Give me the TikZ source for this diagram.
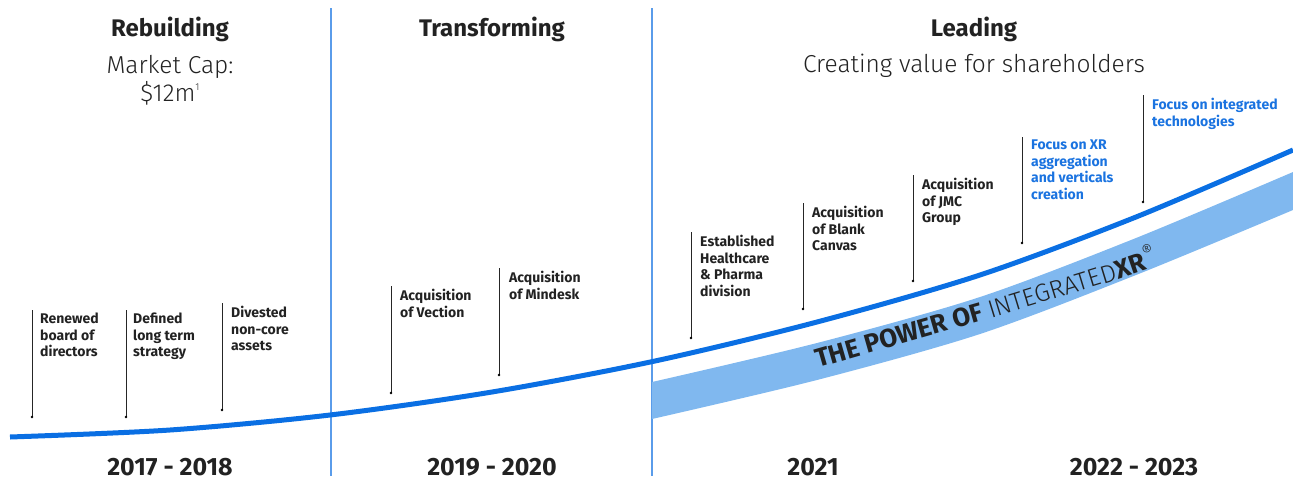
\documentclass[tikz,border=0pt]{standalone}
\usepackage{fontspec}
\setmainfont{Fira Sans}
\newfontfamily\lightfont{Fira Sans Light}
\definecolor{curveblue}{HTML}{0A6FE3}
\definecolor{bandblue}{HTML}{80B8EF}
\definecolor{sepblue}{HTML}{5A9CEA}
\definecolor{txt}{HTML}{222222}
\definecolor{lblblue}{HTML}{1A73E0}
\tikzset{
  lbl/.style={font=\bfseries\fontsize{14}{16.5}\selectfont, text=txt, align=left, anchor=north west, inner sep=0pt},
  bluelbl/.style={lbl, text=lblblue},
  tickline/.style={draw=black!85, line width=1pt},
  sepline/.style={draw=sepblue, line width=1.3pt},
  head/.style={font=\bfseries\fontsize{24}{28}\selectfont, text=txt, inner sep=0pt},
  sub/.style={font=\lightfont\fontsize{24.5}{28}\selectfont, text=txt, inner sep=0pt},
  year/.style={font=\bfseries\fontsize{25}{28}\selectfont, text=txt, inner sep=0pt},
  bandtxt/.style={anchor=base west, inner sep=0pt, text=txt, font=\fontsize{26}{28}\selectfont},
}
\begin{document}
\begin{tikzpicture}[x=1pt,y=-1pt]
\useasboundingbox (0,0) rectangle (1293,480);
% separators
\coordinate (s1t) at (331,8); \coordinate (s1b) at (331,476);
\coordinate (s2t) at (652,8); \coordinate (s2b) at (652,476);
\draw[sepline] (s1t) -- (s1b);
\draw[sepline] (s2t) -- (s2b);
% band
\fill[bandblue] plot[smooth] coordinates {(652,382) (817,343) (980,297) (1136,238) (1293,172)}
  -- plot[smooth] coordinates {(1293,210) (1136,275) (980,334) (817,380) (652,419)} -- cycle;
% curve
\draw[curveblue, line width=5pt] plot[smooth] coordinates {(10,437) (170,430) (330,415) (492,392) (655,361) (817,322) (980,275) (1136,217) (1293,150)};
% band text
\node[bandtxt, rotate=16] (pw1) at (818,368) {\bfseries THE POWER OF};
\node[bandtxt, rotate=17, font=\lightfont\fontsize{25}{28}\selectfont] (pw2) at (pw1.base east) {\hspace*{0.25em}INTEGRATED};
\node[bandtxt, rotate=19] (pw3) at (pw2.base east) {\textbf{XR}\raisebox{0.45em}{\lightfont\fontsize{17}{17}\selectfont ®}};
% headings
\node[head] (h1) at (170,29) {Rebuilding};
\node[sub] (h1a) at (170,67) {Market Cap:};
\node[sub] (h1b) at (170,93) {\$12m\raisebox{0.45em}{\fontsize{10}{10}\selectfont 1}};
\node[head] (h2) at (492,29) {Transforming};
\node[head] (h3) at (974,29) {Leading};
\node[sub] (h3a) at (974,66) {Creating value for shareholders};
% years
\node[year] (y1) at (170,467) {2017 - 2018};
\node[year] (y2) at (492,467) {2019 - 2020};
\node[year] (y3) at (813,467) {2021};
\node[year] (y4) at (1134,467) {2022 - 2023};
% ticks
\coordinate (t1) at (32,310); \coordinate (b1) at (32,417);
\coordinate (t2) at (126,310); \coordinate (b2) at (126,417);
\coordinate (t3) at (222,303); \coordinate (b3) at (222,410);
\coordinate (t4) at (391,286); \coordinate (b4) at (391,393);
\coordinate (t5) at (499,268); \coordinate (b5) at (499,375);
\coordinate (t6) at (691,232); \coordinate (b6) at (691,338);
\coordinate (t7) at (803,203); \coordinate (b7) at (803,309);
\coordinate (t8) at (913,175); \coordinate (b8) at (913,281);
\coordinate (t9) at (1022,137); \coordinate (b9) at (1022,243);
\coordinate (t10) at (1143,95); \coordinate (b10) at (1143,202);
\foreach \i in {1,...,10}{
  \draw[tickline] (t\i) -- (b\i);
  \fill[black] (b\i) circle (1.4);
}
\node[lbl] (l1) at (40,313) {Renewed\\board of\\directors};
\node[lbl] (l2) at (133,313) {Defined\\long term\\strategy};
\node[lbl] (l3) at (231,306) {Divested\\non-core\\assets};
\node[lbl] (l4) at (400,289) {Acquisition\\of Vection};
\node[lbl] (l5) at (509,271) {Acquisition\\of Mindesk};
\node[lbl] (l6) at (700,235) {Established\\Healthcare\\\& Pharma\\division};
\node[lbl] (l7) at (812,206) {Acquisition\\of Blank\\Canvas};
\node[lbl] (l8) at (922,178) {Acquisition\\of JMC\\Group};
\node[bluelbl] (l9) at (1031,140) {Focus on XR\\aggregation\\and verticals\\creation};
\node[bluelbl] (l10) at (1152,98) {Focus on integrated\\technologies};
\end{tikzpicture}
\end{document}
